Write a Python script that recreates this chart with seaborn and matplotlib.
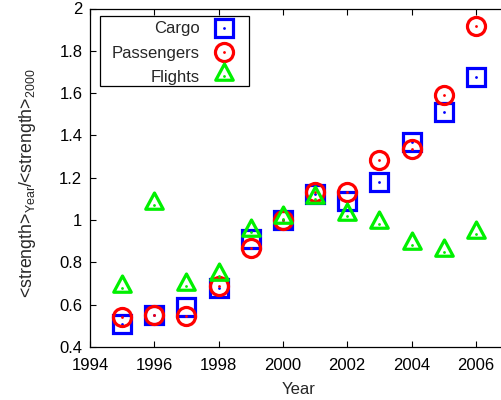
import matplotlib
matplotlib.use("Agg")
import matplotlib.pyplot as plt
import seaborn as sns
from matplotlib.path import Path
from matplotlib.patches import Rectangle
from matplotlib.ticker import FuncFormatter

# =========================================================
# DATA
# =========================================================

years = [1995, 1996, 1997, 1998, 1999, 2000, 2001, 2002, 2003, 2004, 2005, 2006]

cargo = [0.51, 0.55, 0.59, 0.68, 0.91, 1.00, 1.125, 1.09, 1.18, 1.37, 1.51, 1.675]

passengers = [0.54, 0.55, 0.545, 0.69, 0.87, 1.00, 1.135, 1.135, 1.285, 1.335, 1.59, 1.915]

flights = [0.68, 1.07, 0.69, 0.735, 0.945, 1.005, 1.10, 1.02, 0.98, 0.88, 0.85, 0.935]

series_names = ["Cargo", "Passengers", "Flights"]

x_ticks = [1994, 1996, 1998, 2000, 2002, 2004, 2006]
y_ticks = [0.4, 0.6, 0.8, 1.0, 1.2, 1.4, 1.6, 1.8, 2.0]

# =========================================================
# STYLE
# =========================================================

sns.set_style("ticks")

plt.rcParams["font.family"] = ["Liberation Sans", "DejaVu Sans"]
plt.rcParams["font.size"] = 12
plt.rcParams["mathtext.fontset"] = "custom"
plt.rcParams["mathtext.rm"] = "Liberation Sans"
plt.rcParams["mathtext.it"] = "Liberation Sans:italic"

# gnuplot-like triangle (the point sits low inside it)
triangle = Path([(0, 1.0), (-0.7, -0.3), (0.7, -0.3), (0, 1.0)],
                [Path.MOVETO, Path.LINETO, Path.LINETO, Path.CLOSEPOLY])

styles = [
    ("s", 12.8, "#0000ff"),
    ("o", 13.0, "#ff0000"),
    (triangle, 18.0, "#00f000"),
]

# =========================================================
# FIGURE
# =========================================================

fig = plt.figure(figsize=(5.01, 4.00), dpi=100)
ax = fig.add_axes([90 / 501, 53 / 400, 418 / 501, 338.5 / 400])

handles = []
for values, name, (mk, ms, col) in zip([cargo, passengers, flights], series_names, styles):
    sns.lineplot(
        x=years, y=values, ax=ax, errorbar=None, sort=False,
        linestyle="", marker=mk, markersize=ms,
        markerfacecolor="none", markeredgecolor=col,
        markeredgewidth=2.3, color=col,
    )
    outline = ax.lines[-1]
    sns.lineplot(
        x=years, y=values, ax=ax, errorbar=None, sort=False,
        linestyle="", marker="o", markersize=2.0,
        markerfacecolor=col, markeredgecolor=col,
        markeredgewidth=0, color=col,
    )
    dot = ax.lines[-1]
    handles.append((outline, dot))

ax.set_xlim(1994, 2007)
ax.set_ylim(0.4, 2.0)
ax.set_xticks(x_ticks)
ax.set_yticks(y_ticks)
ax.yaxis.set_major_formatter(FuncFormatter(lambda v, p: "%g" % round(v, 2)))

ax.tick_params(direction="in", top=True, right=True, length=4.3,
               width=0.8, labelsize=12, colors="black")
ax.tick_params(axis="x", pad=8)
ax.tick_params(axis="y", pad=5.5)
for s in ax.spines.values():
    s.set_visible(True)
    s.set_linewidth(0.9)
    s.set_color("black")

ax.set_xlabel("Year", fontsize=12, labelpad=6.5)
ax.set_ylabel(r"<strength>$_{\rm Year}$/<strength>$_{\rm 2000}$", fontsize=12.8)
ax.yaxis.set_label_coords(-0.125, 0.483)

# legend: text right-aligned, marker on the right (gnuplot style)
leg = ax.legend(
    handles, series_names,
    loc="upper right", bbox_to_anchor=(234 / 501, 1 - 21.5 / 400),
    bbox_transform=fig.transFigure, borderaxespad=0, borderpad=0,
    markerfirst=False, frameon=False, fontsize=12,
    labelspacing=0.55, handlelength=1.2, handletextpad=0.85,
)
fig.patches.append(Rectangle((100 / 501, 1 - 86 / 400), 149 / 501, 70 / 400,
                             transform=fig.transFigure, fill=False,
                             edgecolor="black", linewidth=0.9, zorder=5))

plt.savefig("out.png", dpi=100)
